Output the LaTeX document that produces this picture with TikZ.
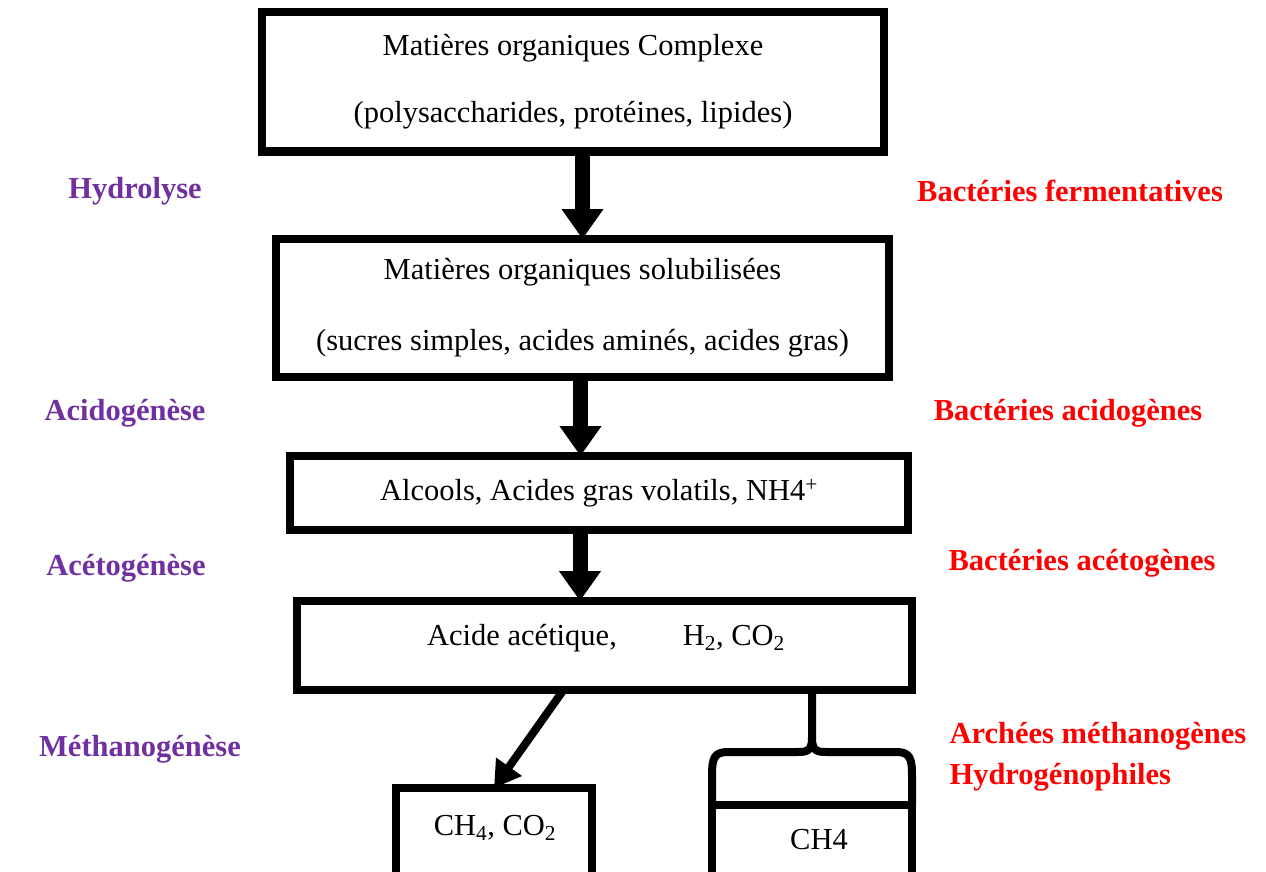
\documentclass[tikz,border=0pt]{standalone}
\usepackage{fontspec}
\setmainfont{Liberation Serif}
\usetikzlibrary{arrows.meta,calc}
\definecolor{phase}{HTML}{7030A0}
\definecolor{bact}{HTML}{FF0000}
\begin{document}
\begin{tikzpicture}[x=1pt,y=-1pt,
  box/.style={draw,line width=8pt,rectangle,inner sep=0pt,outer sep=0pt,align=center},
  boxfont/.style={font=\fontsize{30.5}{#1}\selectfont},
  flow/.style={line width=15pt,-{Triangle[width=40pt,length=30pt]}},
  diag/.style={line width=8pt,-{Triangle[width=30pt,length=26pt]}},
  brace/.style={line width=8pt,line join=round},
  phaselbl/.style={text=phase,font=\fontsize{30.5}{34}\selectfont\bfseries},
  bactlbl/.style={text=bact,font=\fontsize{30.5}{41}\selectfont\bfseries,align=left}]
\useasboundingbox (0,0) rectangle (1266,872);
\fill[white] (0,0) rectangle (1266,872);
\clip (0,0) rectangle (1266,872);

\node[box,boxfont=67,minimum width=622pt,minimum height=139pt] (b1) at (573,82)
  {Matières organiques Complexe\\(polysaccharides, protéines, lipides)};
\node[box,boxfont=71,minimum width=613pt,minimum height=138pt] (b2) at (582.5,308)
  {Matières organiques solubilisées\\(sucres simples, acides aminés, acides gras)};
\node[box,boxfont=34,minimum width=618pt,minimum height=74pt] (b3) at (599,493)
  {Alcools, Acides gras volatils, NH4\textsuperscript{+}};
\node[box,minimum width=615pt,minimum height=89pt] (b4) at (604.5,645.5) {};
\node[boxfont=34] (t4) at (606,638) {Acide acétique,\hspace{66pt}H\textsubscript{2}, CO\textsubscript{2}};
\node[box,minimum width=196pt,minimum height=120pt] (b5) at (494,848) {};
\node[boxfont=34] (t5) at (495,828) {CH\textsubscript{4}, CO\textsubscript{2}};
\node[box,minimum width=200pt,minimum height=100pt] (b6) at (812,855) {};
\node[boxfont=34] (t6) at (819,840) {CH4};

\draw[flow] (b2.north |- b1.south) -- (b2.north);
\draw[flow] ([xshift=-2pt]b2.south) -- ([xshift=-2pt]b2.south |- b3.north);
\draw[flow] ([xshift=-19pt]b3.south) -- ([xshift=-19pt]b3.south |- b4.north);
\draw[diag] ([xshift=-41pt]b4.south) -- (b5.north);

\draw[brace] (b4.south -| b6.north) -- (812,738)
  .. controls (812,752) and (806,752) .. (796,752) -- (728,752)
  .. controls (714,752) and (712,758) .. (712,776) -- (b6.north west);
\draw[brace] (812,738)
  .. controls (812,752) and (818,752) .. (828,752) -- (896,752)
  .. controls (910,752) and (912,758) .. (912,776) -- (b6.north east);

\node[phaselbl] (p1) at (135,191) {Hydrolyse};
\node[phaselbl] (p2) at (125,413) {Acidogénèse};
\node[phaselbl] (p3) at (126,568) {Acétogénèse};
\node[phaselbl] (p4) at (140,749) {Méthanogénèse};

\node[bactlbl] (r1) at (1070,191) {Bactéries fermentatives};
\node[bactlbl] (r2) at (1068,413) {Bactéries acidogènes};
\node[bactlbl] (r3) at (1082,563) {Bactéries acétogènes};
\node[bactlbl,anchor=west] (r4) at (946,757) {Archées méthanogènes\\Hydrogénophiles};
\end{tikzpicture}
\end{document}
